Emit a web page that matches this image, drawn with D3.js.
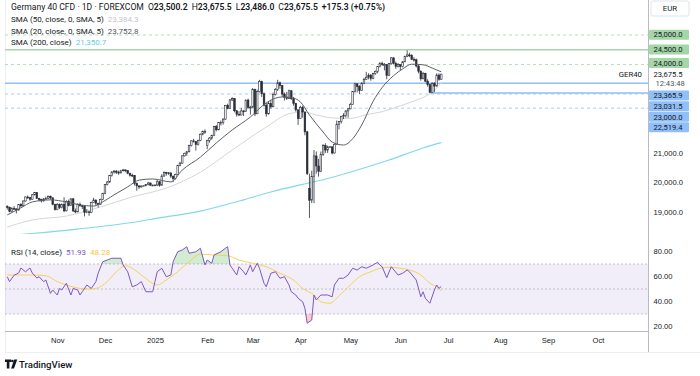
<!DOCTYPE html>
<html>
<head>
<meta charset="utf-8">
<script src="https://cdn.jsdelivr.net/npm/d3@7"></script>
<style>
  body { margin: 0; background: #fff; }
  svg { display: block; font-family: Roboto, "Liberation Sans", sans-serif; }
  .axis .domain { display: none; }
  .axis text { fill: #131722; font-size: 7.6px; }
</style>
</head>
<body>
<svg id="chart" width="700" height="376"></svg>
<script>
// daily candles [open, high, low, close], Oct 2 2024 -> Jun 26 2025
const candles = [
  [19180,19230,19080,19165],[19165,19170,18990,19015],[19015,19160,19000,19120],
  [19120,19200,19080,19104],[19104,19120,18950,19066],[19066,19270,19050,19254],[19254,19300,19150,19210],[19210,19390,19180,19373],
  [19373,19520,19350,19508],[19508,19560,19440,19486],[19486,19500,19380,19432],[19432,19610,19420,19583],[19583,19680,19560,19657],
  [19657,19670,19440,19461],[19461,19480,19360,19421],[19421,19450,19320,19377],[19377,19470,19350,19443],[19443,19520,19400,19464],
  [19464,19560,19440,19531],[19531,19560,19420,19479],[19479,19490,19230,19257],[19257,19280,19050,19078],[19078,19300,19060,19255],
  [19255,19290,19100,19148],[19148,19290,19120,19256],[19256,19500,18990,19039],[19039,19400,19020,19362],[19362,19420,19190,19215],
  [19215,19470,19200,19448],[19448,19460,19010,19033],[19033,19120,18960,19003],[19003,19290,18990,19263],[19263,19320,19180,19211],
  [19211,19230,19100,19189],[19189,19200,18850,18987],[18987,19100,18960,19004],[19004,19040,18870,18976],[18976,19350,18960,19323],
  [19323,19480,19300,19406],[19406,19420,19200,19295],[19295,19310,19150,19262],[19262,19450,19240,19426],[19426,19650,19400,19626],
  [19626,19950,19600,19934],[19934,20050,19900,20016],[20016,20250,19990,20233],[20233,20380,20200,20359],[20359,20420,20300,20385],
  [20385,20420,20290,20346],[20346,20400,20260,20330],[20330,20430,20300,20399],[20399,20460,20370,20426],[20426,20440,20350,20405],
  [20405,20420,20280,20314],[20314,20330,20200,20246],[20246,20300,20180,20242],[20242,20250,19900,19970],[19970,20000,19720,19885],
  [19885,19900,19780,19849],[19849,19900,19830,19880],[19880,19900,19870,19890],[19890,19950,19870,19930],[19930,20020,19900,19984],
  [19984,19990,19880,19909],[19909,19930,19880,19910],[19910,19930,19900,19915],[19915,20100,19880,20025],[20025,20050,19860,19906],
  [19906,20280,19900,20217],[20217,20380,20200,20340],[20340,20360,20230,20329],[20329,20350,20260,20317],[20317,20360,20150,20215],
  [20215,20230,20010,20132],[20132,20300,20100,20271],[20271,20600,20250,20574],[20574,20700,20550,20655],[20655,20920,20640,20903],
  [20903,21010,20880,20990],[20990,21070,20900,21042],[21042,21280,21020,21254],[21254,21430,21220,21411],[21411,21480,21350,21394],
  [21394,21400,21080,21282],[21282,21450,21250,21431],[21431,21660,21400,21637],[21637,21760,21600,21727],[21727,21800,21650,21732],
  [21250,21450,21130,21428],[21428,21540,21350,21505],[21505,21620,21450,21586],[21586,21920,21570,21902],[21902,21950,21730,21787],
  [21787,22050,21770,22037],[22037,22100,21930,22037],[22037,22180,21960,22148],[22148,22630,22130,22612],[22612,22670,22480,22513],
  [22513,22830,22500,22798],[22798,22890,22760,22845],[22845,22850,22380,22433],[22433,22450,22230,22314],[22314,22420,22260,22287],
  [22287,22520,22280,22426],[22426,22450,22250,22410],[22410,22810,22400,22794],[22794,22840,22500,22550],[22550,22600,22300,22551],
  [22551,23200,22540,23147],[23147,23180,22250,22327],[22327,23150,22320,23081],[23081,23480,23050,23419],[23419,23450,22900,23009],
  [23009,23050,22580,22620],[22620,22700,22230,22328],[22328,22750,22300,22676],[22676,22800,22500,22567],[22567,23050,22550,22987],
  [22987,23200,22950,23155],[23155,23480,23100,23380],[23380,23420,23180,23288],[23288,23300,22900,22999],[22999,23050,22780,22892],
  [22892,23070,22800,22852],[22852,23150,22830,23109],[23109,23130,22800,22839],[22839,22900,22600,22679],[22679,22700,22400,22461],
  [22461,22480,21950,22163],[22163,22600,22150,22540],[22540,22600,22200,22390],[22390,22400,21600,21717],[21717,21750,20250,20300],
  [19800,20300,18800,19400],[19400,20400,19300,20200],[20200,21100,19300,20900],[20900,21050,20300,20560],[20560,20800,20200,20374],
  [20374,21050,20350,20954],[20954,21300,20900,21254],[21254,21330,21000,21100],[21100,21250,21000,21206],[21206,21230,21180,21210],
  [21210,21220,20950,21000],[21000,21320,20980,21294],[21294,22100,21290,21962],[21962,22080,21800,22064],[22064,22260,22000,22242],
  [22242,22350,22150,22272],[22272,22450,22200,22426],[22426,22520,22200,22497],[22497,22700,22480,22650],[22650,23100,22640,23087],
  [23087,23380,23050,23345],[23345,23360,23050,23249],[23249,23300,23000,23116],[23116,23400,23100,23353],[23353,23550,23330,23499],
  [23499,23750,23480,23567],[23567,23700,23500,23639],[23639,23680,23450,23528],[23528,23720,23500,23695],[23695,23800,23650,23767],
  [23767,23950,23700,23935],[23935,24080,23900,24036],[24036,24100,23950,23999],[23999,24050,23800,23999],[23999,24010,23500,23630],
  [23630,24050,23620,24028],[24028,24250,24000,24226],[24226,24240,24000,24038],[24038,24100,23850,23934],[23934,24050,23900,23997],
  [23997,24000,23800,23930],[23930,24120,23900,24092],[24092,24300,24080,24276],[24276,24480,24250,24324],[24324,24400,24250,24304],
  [24304,24350,24150,24174],[24174,24250,24100,24162],[24162,24200,23900,23949],[23949,23980,23700,23772],[23772,23800,23450,23516],
  [23516,23750,23500,23699],[23699,23720,23400,23435],[23435,23500,23250,23317],[23317,23350,23031.5,23057],[23057,23400,23040,23350],
  [23350,23400,23060,23270],[23270,23700,23250,23642],[23642,23700,23450,23500.2],[23500.2,23675.5,23486,23675.5]
];

// moving averages: [bar index, value]
const sma20 = [[0,18900],[6,19140],[11,19340],[19,19410],[26,19340],[32,19240],[38,19200],[41,19300],[47,19580],[53,19850],
  [58,20080],[64,20120],[72,20020],[77,20420],[85,20860],[92,21340],[99,21780],[107,22220],[114,22700],[121,22900],[126,22860],
  [129,22730],[133,22290],[139,21710],[143,21370],[148,21270],[152,21480],[156,21950],[161,22750],[165,23220],[170,23620],
  [174,23850],[178,24010],[183,23990],[187,23880],[191,23752.8]];
const sma50 = [[0,18490],[11,18730],[26,18860],[41,19170],[55,19510],[70,19810],[85,20350],[99,21100],[114,21880],[124,22330],
  [130,22390],[136,22290],[143,22190],[151,22170],[158,22300],[165,22400],[173,22600],[180,22790],[185,22960],[189,23200],[191,23384.3]];
const sma200 = [[0,18200],[31,18420],[50,18590],[67,18800],[85,19030],[104,19410],[116,19680],[129,19920],[139,20090],
  [154,20420],[168,20760],[183,21170],[191,21350.7]];

// RSI (14) and its moving average: [bar index, value]
const rsi = [[0,59.8],[1,55.9],[3,61],[5,62.8],[6,66.8],[8,63.8],[10,66.8],[11,62.8],[13,58.8],[14,59.8],[16,55.9],[17,57.2],
  [19,46.5],[20,49.2],[22,45.2],[23,50.5],[24,49.2],[26,54.6],[28,45.2],[29,50.5],[31,49.2],[32,45.2],[33,47.8],[35,53.2],
  [37,50.5],[39,55.9],[40,62.6],[42,71.8],[44,73.2],[46,74.6],[50,74.6],[51,69.2],[53,63.8],[55,51.8],[57,53.2],[59,55.9],
  [61,47.8],[64,47.8],[65,55.9],[66,63.8],[68,66.6],[70,59.8],[72,61.2],[73,71.8],[75,79.8],[77,81.2],[79,83.8],[80,78.6],
  [83,79.8],[85,82.6],[87,69.2],[88,73.2],[90,70.6],[91,77.2],[94,79.8],[96,82.6],[97,83.8],[98,69.2],[99,66.6],[101,61.2],
  [102,67.8],[104,63.8],[105,61.2],[107,69.2],[108,63.8],[110,70.6],[111,66.6],[113,54.6],[114,51.8],[116,62.6],[118,63.8],
  [120,58.6],[122,59.8],[124,53.2],[125,47.8],[127,45.2],[128,42.6],[130,39.8],[131,34.6],[132,22.6],[134,25.2],[135,45.2],
  [136,41.2],[138,45.2],[141,45.2],[143,43.8],[144,53.2],[146,58.6],[148,58.6],[150,61.2],[152,66.6],[154,65.2],[156,67.8],
  [158,66.6],[161,69.2],[163,71.4],[164,69.2],[165,67.8],[167,59],[169,67.8],[172,61.2],[174,62.6],[176,65.2],[177,63.8],
  [180,57.2],[182,43.8],[183,47.8],[184,42.6],[186,38.6],[188,49.2],[189,53.2],[190,50.5],[191,51.93]];
const rsiMa = [[0,61.2],[6,61.2],[11,61.2],[17,60.6],[22,55.9],[26,53.2],[32,50.5],[36,50],[39,50.5],[44,55.9],[48,63.8],
  [52,68.6],[55,66.6],[60,59.8],[66,53.2],[70,57.2],[75,63.8],[80,71.8],[85,77.8],[91,77.2],[97,76.6],[102,73.2],[108,70.6],
  [114,67.8],[120,62.6],[126,57.2],[130,50.5],[135,45.2],[138,39.8],[142,38.6],[146,44.5],[151,53.2],[155,59.8],[160,63.8],
  [164,66.6],[168,67.4],[173,66.6],[177,65.2],[182,61.2],[186,54.6],[190,50.5],[191,48.28]];

const monthLabels = ["Nov", "Dec", "2025", "Feb", "Mar", "Apr", "May", "Jun", "Jul", "Aug", "Sep", "Oct"];
const monthStart = [22, 43, 65, 88, 108, 129, 151, 173, 194, 217, 238, 260];
const priceTicks = [19000, 20000, 21000];
const rsiTicks = [20, 40, 60, 80];
const resistance = [25000, 24500, 24000];
const support = [23365.9, 23031.5, 23000, 22519.4];
const symbol = "GER40", clock = "12:43:48";

const svg = d3.select("#chart");
const fmt = d3.format(",.1f");
const dark = "#2a2e39", green = "#a5d6a7", blue = "#90bff9";

const x = d3.scaleLinear().domain([-1, 282]).range([5, 648]);
const y = d3.scaleLinear().domain([18250, 25500]).range([234.1, 20.25]);
const yR = d3.scaleLinear().domain([20, 80]).range([326.5, 251.5]);

const defs = svg.append("defs");
defs.append("clipPath").attr("id", "mainClip").append("rect")
    .attr("x", 5).attr("y", 0).attr("width", 643).attr("height", 234);
defs.append("clipPath").attr("id", "rsiClip").append("rect")
    .attr("x", 5).attr("y", 236).attr("width", 643).attr("height", 95);
defs.append("clipPath").attr("id", "obClip").append("rect")
    .attr("x", 5).attr("y", 236).attr("width", 643).attr("height", yR(70) - 236);
defs.append("clipPath").attr("id", "osClip").append("rect")
    .attr("x", 5).attr("y", yR(30)).attr("width", 643).attr("height", 331 - yR(30));

// frame
svg.append("line").attr("x1", 648.5).attr("x2", 648.5).attr("y1", 0).attr("y2", 352)
    .attr("stroke", "#b8bbc4").attr("stroke-width", 1);
svg.append("line").attr("x1", 5.5).attr("x2", 5.5).attr("y1", 0).attr("y2", 352)
    .attr("stroke", "#eceef2");
svg.append("line").attr("x1", 5).attr("x2", 648).attr("y1", 331.5).attr("y2", 331.5)
    .attr("stroke", "#b8bbc4");
svg.append("line").attr("x1", 5).attr("x2", 700).attr("y1", 352.5).attr("y2", 352.5)
    .attr("stroke", "#eceef2");

// ---------- main pane ----------
const main = svg.append("g").attr("clip-path", "url(#mainClip)");

const levelStyle = { 24500: "solid", 23365.9: "solid", 23031.5: "ray" };
const levels = resistance.map(v => ({ v, c: green })).concat(support.map(v => ({ v, c: blue })));
levels.forEach(l => {
    const st = levelStyle[l.v] || "dash";
    let x1 = 5;
    if (st === "ray") x1 = x(candles.findIndex(c => c[2] === l.v));
    main.append("line")
        .attr("x1", x1).attr("x2", 648)
        .attr("y1", y(l.v)).attr("y2", y(l.v))
        .attr("stroke", l.c)
        .attr("stroke-width", st === "dash" ? 0.8 : 1.6)
        .attr("stroke-dasharray", st === "dash" ? "3,3" : null);
});

const line = d3.line().x(d => x(d[0])).y(d => y(d[1])).curve(d3.curveMonotoneX);
main.append("path").datum(sma200).attr("d", line)
    .attr("fill", "none").attr("stroke", "#80d8ea").attr("stroke-width", 1.1);
main.append("path").datum(sma50).attr("d", line)
    .attr("fill", "none").attr("stroke", "#d6d6d9").attr("stroke-width", 1);

const bw = 1.6;
const cg = main.append("g");
cg.selectAll("line").data(candles).join("line")
    .attr("x1", (d, i) => x(i)).attr("x2", (d, i) => x(i))
    .attr("y1", d => y(d[1])).attr("y2", d => y(d[2]))
    .attr("stroke", dark).attr("stroke-width", 0.8);
cg.selectAll("rect").data(candles).join("rect")
    .attr("x", (d, i) => x(i) - bw / 2)
    .attr("width", bw)
    .attr("y", d => y(Math.max(d[0], d[3])))
    .attr("height", d => Math.max(0.8, Math.abs(y(d[0]) - y(d[3]))))
    .attr("fill", d => d[3] >= d[0] ? "#ffffff" : dark)
    .attr("stroke", dark).attr("stroke-width", 0.6);

main.append("path").datum(sma20).attr("d", line)
    .attr("fill", "none").attr("stroke", "#5d606b").attr("stroke-width", 1);

// ---------- legend ----------
const last = candles[candles.length - 1];
const prevClose = candles[candles.length - 2][3];
const chg = last[3] - prevClose;
const t1 = svg.append("text").attr("x", 11).attr("y", 9.6).attr("font-size", 8.6).attr("fill", "#131722");
t1.append("tspan").text("Germany 40 CFD · 1D · FOREXCOM");
[["O", last[0]], ["H", last[1]], ["L", last[2]], ["C", last[3]]].forEach(([k, v]) => {
    t1.append("tspan").attr("dx", 4).text(k);
    t1.append("tspan").attr("font-weight", 600).text(fmt(v));
});
t1.append("tspan").attr("dx", 4).attr("font-weight", 600)
    .text(`+${fmt(chg)} (+${d3.format(".2f")(chg / prevClose * 100)}%)`);

const smaLegend = [
    ["SMA (50, close, 0, SMA, 5)", sma50, "#c4c6cc"],
    ["SMA (20, close, 0, SMA, 5)", sma20, "#50535e"],
    ["SMA (200, close)", sma200, "#62cde3"]
];
smaLegend.forEach(([label, arr, col], i) => {
    const t = svg.append("text").attr("x", 11).attr("y", 21.8 + i * 11.8)
        .attr("font-size", 8).attr("fill", "#131722");
    t.append("tspan").text(label);
    t.append("tspan").attr("dx", 4).attr("fill", col).text(fmt(arr[arr.length - 1][1]));
});

svg.append("text").attr("x", 642).attr("y", y(last[3]) + 2.8)
    .attr("text-anchor", "end").attr("font-size", 7.8).attr("fill", "#131722").text(symbol);

// ---------- price axis ----------
svg.append("g").attr("class", "axis").attr("transform", "translate(648,0)")
    .call(d3.axisRight(y).tickValues(priceTicks).tickFormat(fmt).tickSize(0).tickPadding(5.5));

const cur = svg.append("g");
cur.append("rect").attr("x", 651).attr("y", 1).attr("width", 38).attr("height", 15).attr("rx", 2)
    .attr("fill", "#fff").attr("stroke", "#e0e3eb");
cur.append("text").attr("x", 670).attr("y", 11.2).attr("text-anchor", "middle")
    .attr("font-size", 7.8).attr("fill", "#131722").text("EUR");

// price tags, pushed apart from the current-price block
const tagH = 10.6;
const curTop = y(last[3]) - 5.5, curBot = curTop + 22;
const tags = [];
let lim = curTop;
resistance.slice().sort((a, b) => a - b).forEach(v => {
    const top = Math.min(y(v) - tagH / 2, lim - tagH);
    tags.push({ v, top, c: green });
    lim = top;
});
lim = curBot;
support.slice().sort((a, b) => b - a).forEach(v => {
    const top = Math.max(y(v) - tagH / 2, lim);
    tags.push({ v, top, c: blue });
    lim = top + tagH;
});
const tg = svg.append("g").selectAll("g").data(tags).join("g");
tg.append("rect").attr("x", 649).attr("y", d => d.top).attr("width", 40).attr("height", tagH - 0.6)
    .attr("rx", 1).attr("fill", d => d.c);
tg.append("text").attr("x", 653.5).attr("y", d => d.top + tagH / 2 + 2.5)
    .attr("font-size", 7.6).attr("fill", "#131722").text(d => fmt(d.v));
svg.append("text").attr("x", 653.5).attr("y", curTop + 8)
    .attr("font-size", 7.6).attr("fill", "#131722").text(fmt(last[3]));
svg.append("text").attr("x", 655.5).attr("y", curTop + 17)
    .attr("font-size", 7.6).attr("fill", "#50535e").text(clock);

// ---------- RSI pane ----------
const rp = svg.append("g").attr("clip-path", "url(#rsiClip)");
rp.append("rect").attr("x", 5).attr("width", 643).attr("y", yR(70)).attr("height", yR(30) - yR(70))
    .attr("fill", "#7e57c2").attr("fill-opacity", 0.1);
[70, 50, 30].forEach(v => {
    rp.append("line").attr("x1", 5).attr("x2", 648).attr("y1", yR(v)).attr("y2", yR(v))
        .attr("stroke", "#b2b5be").attr("stroke-width", 0.8).attr("stroke-dasharray", "2,2");
});
const rx = d => x(d[0]), ry = d => yR(d[1]);
rp.append("path").datum(rsi)
    .attr("d", d3.area().x(rx).y0(yR(70)).y1(ry))
    .attr("clip-path", "url(#obClip)").attr("fill", "#4caf50").attr("fill-opacity", 0.25);
rp.append("path").datum(rsi)
    .attr("d", d3.area().x(rx).y0(yR(30)).y1(ry))
    .attr("clip-path", "url(#osClip)").attr("fill", "#f23645").attr("fill-opacity", 0.25);
rp.append("path").datum(rsiMa).attr("d", d3.line().x(rx).y(ry).curve(d3.curveMonotoneX))
    .attr("fill", "none").attr("stroke", "#f7d256").attr("stroke-width", 1);
rp.append("path").datum(rsi).attr("d", d3.line().x(rx).y(ry))
    .attr("fill", "none").attr("stroke", "#7e57c2").attr("stroke-width", 1);

const rl = svg.append("text").attr("x", 11).attr("y", 254.5).attr("font-size", 8).attr("fill", "#131722");
rl.append("tspan").text("RSI (14, close)");
rl.append("tspan").attr("dx", 4).attr("fill", "#7e57c2").text(rsi[rsi.length - 1][1].toFixed(2));
rl.append("tspan").attr("dx", 4).attr("fill", "#f2c744").text(rsiMa[rsiMa.length - 1][1].toFixed(2));

svg.append("g").attr("class", "axis").attr("transform", "translate(648,0)")
    .call(d3.axisRight(yR).tickValues(rsiTicks).tickFormat(d3.format(".2f")).tickSize(0).tickPadding(5.5));

// ---------- time axis ----------
svg.append("g").attr("class", "axis").attr("transform", "translate(0,340)")
    .call(d3.axisBottom(x).tickValues(monthStart).tickFormat((d, i) => monthLabels[i]).tickSize(0).tickPadding(0))
    .selectAll("text").attr("dy", "0.35em").attr("fill", "#50535e");

// ---------- logo ----------
const logo = svg.append("g").attr("fill", "#131722");
logo.append("path").attr("d", "M5,359.5h6.2v2.6h-1.8v6.3h-2.6v-6.3h-1.8z");
logo.append("circle").attr("cx", 12.4).attr("cy", 361).attr("r", 1.3);
logo.append("path").attr("d", "M14.2,359.5h3l-3.2,8.9h-2.9z");
logo.append("text").attr("x", 19).attr("y", 367.6).attr("font-size", 9.6).attr("font-weight", 500).text("TradingView");
</script>
</body>
</html>
